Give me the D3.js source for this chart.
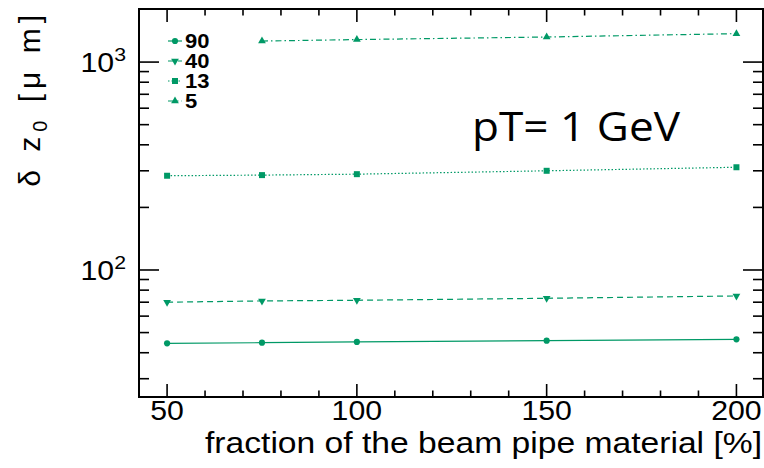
<!DOCTYPE html>
<html><head><meta charset="utf-8">
<script src="https://cdn.jsdelivr.net/npm/d3@7"></script>
<style>body{margin:0;background:#fff} svg{display:block}</style>
</head><body><svg id="c" width="764" height="468"></svg>
<script>
// Beam pipe material fraction (%) and the resulting delta z0 resolution (um)
const fraction = [50, 75, 100, 150, 200];
const dz90 = [44.4, 44.7, 45.1, 45.7, 46.4];
const dz40 = [70.0, 71.0, 71.5, 73.1, 75.0];
const dz13 = [284, 286, 289, 300, 312];
const fraction5 = [75, 100, 150, 200];
const dz5 = [1262, 1283, 1320, 1370];
const legendLabels = ["90", "40", "13", "5"];
const xTicks = [50, 100, 150, 200];
const yMajorTicks = [100, 1000];
const yMajorExp = ["2", "3"];

const green = "#009966";
const svg = d3.select("#c");
const L = 139, R = 763, T = 9, B = 397;

const x = d3.scaleLinear().domain([42.6, 207]).range([L, R]);
const y = d3.scaleLog().domain([24.5, 1800]).range([B, T]);

const series = [
  {xs: fraction, ys: dz90, sym: d3.symbolCircle, size: 30, rot: 0, dash: null},
  {xs: fraction, ys: dz40, sym: d3.symbolTriangle, size: 26, rot: 180, dash: "6,4"},
  {xs: fraction, ys: dz13, sym: d3.symbolSquare, size: 36, rot: 0, dash: "1.5,2"},
  {xs: fraction5, ys: dz5, sym: d3.symbolTriangle, size: 26, rot: 0, dash: "6,3,1.5,3"}
];

// widen text glyphs horizontally by a factor
function widen(sel, k) {
  sel.each(function () {
    const w = this.getComputedTextLength();
    d3.select(this).attr("textLength", w * k).attr("lengthAdjust", "spacingAndGlyphs");
  });
  return sel;
}

// minor ticks
const xMinor = d3.range(50, 201, 10).filter(v => !xTicks.includes(v));
const yMinor = y.ticks().filter(v => !yMajorTicks.includes(v) && v >= 24.5 && v <= 1800);

const ax = svg.append("g").attr("stroke", "#000").attr("stroke-width", 1.6);
xTicks.forEach(v => {
  ax.append("line").attr("x1", x(v)).attr("x2", x(v)).attr("y1", B).attr("y2", B - 13);
  ax.append("line").attr("x1", x(v)).attr("x2", x(v)).attr("y1", T).attr("y2", T + 13);
});
xMinor.forEach(v => {
  ax.append("line").attr("x1", x(v)).attr("x2", x(v)).attr("y1", B).attr("y2", B - 6.5);
  ax.append("line").attr("x1", x(v)).attr("x2", x(v)).attr("y1", T).attr("y2", T + 6.5);
});
yMajorTicks.forEach(v => {
  ax.append("line").attr("x1", L).attr("x2", L + 20).attr("y1", y(v)).attr("y2", y(v));
  ax.append("line").attr("x1", R).attr("x2", R - 20).attr("y1", y(v)).attr("y2", y(v));
});
yMinor.forEach(v => {
  ax.append("line").attr("x1", L).attr("x2", L + 10).attr("y1", y(v)).attr("y2", y(v));
  ax.append("line").attr("x1", R).attr("x2", R - 10).attr("y1", y(v)).attr("y2", y(v));
});
svg.append("rect").attr("x", L).attr("y", T).attr("width", R - L).attr("height", B - T)
  .attr("fill", "none").attr("stroke", "#000").attr("stroke-width", 2);

const font = "'Liberation Sans', Arial, sans-serif";
// x tick labels
widen(svg.append("g").selectAll("text").data(xTicks).join("text")
  .attr("x", d => x(d)).attr("y", 420).attr("text-anchor", "middle")
  .attr("font-family", font).attr("font-size", 27).text(d => d), 1.12);
// y tick labels
yMajorTicks.forEach((v, i) => {
  const t = svg.append("text").attr("x", 126).attr("y", y(v) + 10).attr("text-anchor", "end")
    .attr("font-family", font).attr("font-size", 27);
  t.append("tspan").text("10");
  t.append("tspan").attr("dy", -11).attr("font-size", 19).text(yMajorExp[i]);
  widen(t, 1.12);
});

// axis titles
svg.append("text").attr("x", 762).attr("y", 453).attr("text-anchor", "end")
  .attr("font-family", font).attr("font-size", 30)
  .attr("textLength", 557).attr("lengthAdjust", "spacingAndGlyphs")
  .text("fraction of the beam pipe material [%]");
const yt = svg.append("text").attr("transform", "translate(40,10) rotate(-90)")
  .attr("text-anchor", "end").attr("font-family", font).attr("font-size", 30)
  .attr("letter-spacing", 5);
yt.append("tspan").text("δ z");
yt.append("tspan").attr("dy", 7).attr("font-size", 20).text("0");
yt.append("tspan").attr("dy", -7).text(" [μ m]");

// series lines and markers
svg.append("clipPath").attr("id", "plot").append("rect")
  .attr("x", L).attr("y", T).attr("width", R - L).attr("height", B - T);
const plot = svg.append("g").attr("clip-path", "url(#plot)");
const line = d3.line().x(d => x(d[0])).y(d => y(d[1]));
series.forEach(s => {
  const pts = s.xs.map((v, i) => [v, s.ys[i]]);
  plot.append("path").attr("d", line(pts)).attr("fill", "none").attr("stroke", green)
    .attr("stroke-width", 1.2).attr("stroke-dasharray", s.dash);
  plot.selectAll(null).data(pts).join("path")
    .attr("d", d3.symbol().type(s.sym).size(s.size))
    .attr("transform", d => `translate(${x(d[0])},${y(d[1])}) rotate(${s.rot})`)
    .attr("fill", green);
});

// legend
const lg = svg.append("g");
series.forEach((s, i) => {
  const ly = 41 + i * 20;
  lg.append("line").attr("x1", 168).attr("x2", 182).attr("y1", ly).attr("y2", ly)
    .attr("stroke", green).attr("stroke-width", 1.2).attr("stroke-dasharray", s.dash);
  lg.append("path").attr("d", d3.symbol().type(s.sym).size(s.size))
    .attr("transform", `translate(175,${ly}) rotate(${s.rot})`).attr("fill", green);
  widen(lg.append("text").attr("x", 185).attr("y", ly + 7).attr("font-family", font)
    .attr("font-weight", "bold").attr("font-size", 20).text(legendLabels[i]), 1.1);
});

// annotation
svg.append("text").attr("x", 472).attr("y", 141).attr("font-family", "'Open Sans', sans-serif")
  .attr("font-size", 40).attr("textLength", 208).attr("lengthAdjust", "spacingAndGlyphs")
  .text("pT= 1 GeV");
</script></body></html>
